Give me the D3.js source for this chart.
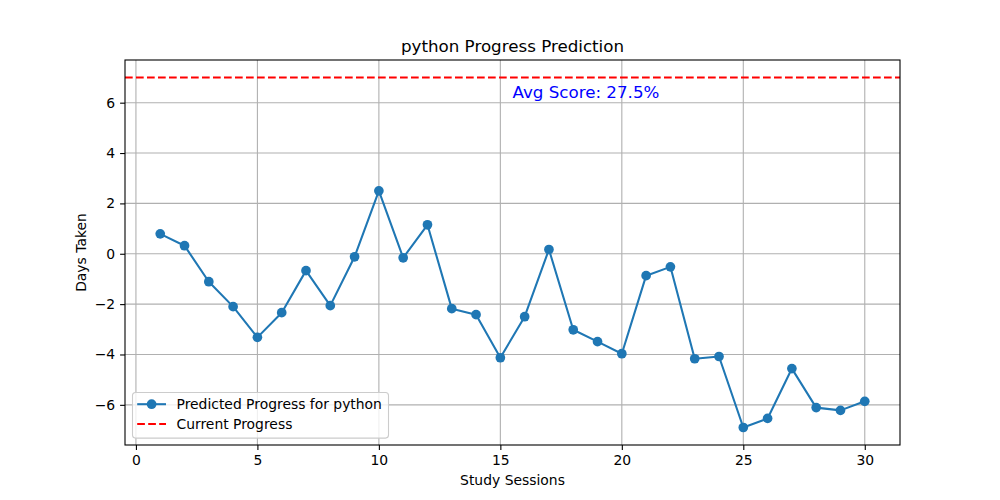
<!DOCTYPE html>
<html>
<head>
<meta charset="utf-8">
<script src="https://cdn.jsdelivr.net/npm/d3@7"></script>
<style>
  body { margin: 0; background: #fff; }
  svg text { font-family: "DejaVu Sans", sans-serif; fill: #000; }
</style>
</head>
<body>
<svg id="chart" width="1000" height="500"></svg>
<script>
// sessions and predicted days
var sessions = d3.range(1, 31);
var predicted = [0.79, 0.32, -1.11, -2.10, -3.32, -2.34, -0.67, -2.06, -0.12, 2.50,
                 -0.16, 1.15, -2.18, -2.42, -4.13, -2.50, 0.17, -3.02, -3.49, -3.97,
                 -0.87, -0.52, -4.17, -4.08, -6.90, -6.54, -4.56, -6.11, -6.22, -5.86];
var currentProgress = 7;
var xTicks = [0, 5, 10, 15, 20, 25, 30];
var yTicks = [-6, -4, -2, 0, 2, 4, 6];
var titleText = "python Progress Prediction";
var avgText = "Avg Score: 27.5%";
var legendLabels = ["Predicted Progress for python", "Current Progress"];

var svg = d3.select("#chart");
var margin = {left: 125, right: 100, top: 60, bottom: 55};
var width = 1000 - margin.left - margin.right;
var height = 500 - margin.top - margin.bottom;

// matplotlib style 5% padding
var xmin = d3.min(sessions), xmax = d3.max(sessions);
var xpad = (xmax - xmin) * 0.05;
var ymin = d3.min(predicted), ymax = Math.max(d3.max(predicted), currentProgress);
var ypad = (ymax - ymin) * 0.05;

var x = d3.scaleLinear().domain([xmin - xpad, xmax + xpad]).range([0, width]);
var y = d3.scaleLinear().domain([ymin - ypad, ymax + ypad]).range([height, 0]);

var g = svg.append("g").attr("transform", "translate(" + margin.left + "," + margin.top + ")");

// grid
g.append("g").selectAll("line").data(xTicks).enter().append("line")
  .attr("x1", function(d){return x(d)}).attr("x2", function(d){return x(d)})
  .attr("y1", 0).attr("y2", height)
  .attr("stroke", "#b0b0b0").attr("stroke-width", 1.1);
g.append("g").selectAll("line").data(yTicks).enter().append("line")
  .attr("y1", function(d){return y(d)}).attr("y2", function(d){return y(d)})
  .attr("x1", 0).attr("x2", width)
  .attr("stroke", "#b0b0b0").attr("stroke-width", 1.1);

// axes
var fmt = function(d){ return d < 0 ? "\u2212" + Math.abs(d) : String(d); };
var xAxis = g.append("g").attr("transform", "translate(0," + height + ")")
  .call(d3.axisBottom(x).tickValues(xTicks).tickFormat(fmt).tickSize(4.9).tickPadding(4.9));
var yAxis = g.append("g")
  .call(d3.axisLeft(y).tickValues(yTicks).tickFormat(fmt).tickSize(4.9).tickPadding(4.9));
[xAxis, yAxis].forEach(function(a){
  a.select(".domain").remove();
  a.selectAll(".tick line").attr("stroke", "#000").attr("stroke-width", 1.1);
  a.selectAll(".tick text").attr("font-size", "13.9px").attr("font-family", "DejaVu Sans").attr("fill", "#000");
});

// red current progress line
g.append("line")
  .attr("x1", 0).attr("x2", width)
  .attr("y1", y(currentProgress)).attr("y2", y(currentProgress))
  .attr("stroke", "red").attr("stroke-width", 2.08).attr("stroke-dasharray", "7.7,3.3");

// predicted line and markers
var line = d3.line().x(function(d, i){return x(sessions[i])}).y(function(d){return y(d)});
g.append("path").datum(predicted)
  .attr("d", line).attr("fill", "none")
  .attr("stroke", "#1f77b4").attr("stroke-width", 2.08).attr("stroke-linejoin", "round");
g.append("g").selectAll("circle").data(predicted).enter().append("circle")
  .attr("cx", function(d, i){return x(sessions[i])})
  .attr("cy", function(d){return y(d)})
  .attr("r", 4.85).attr("fill", "#1f77b4");

// spines
g.append("rect").attr("x", 0).attr("y", 0).attr("width", width).attr("height", height)
  .attr("fill", "none").attr("stroke", "#000").attr("stroke-width", 1.1);

// avg score text
g.append("text")
  .attr("x", width * 0.5).attr("y", 38)
  .attr("font-size", "16.7px").style("fill", "blue")
  .text(avgText);

// title and labels
svg.append("text").attr("x", margin.left + width / 2).attr("y", 52)
  .attr("text-anchor", "middle").attr("font-size", "16.7px").text(titleText);
svg.append("text").attr("x", margin.left + width / 2).attr("y", 485)
  .attr("text-anchor", "middle").attr("font-size", "13.9px").text("Study Sessions");
svg.append("text").attr("transform", "translate(86," + (margin.top + height / 2) + ") rotate(-90)")
  .attr("text-anchor", "middle").attr("font-size", "13.9px").text("Days Taken");

// legend
var legend = g.append("g").attr("transform", "translate(7.5," + (height - 52.5) + ")");
legend.append("rect").attr("width", 256).attr("height", 45.6).attr("rx", 3)
  .attr("fill", "#fff").attr("fill-opacity", 0.8)
  .attr("stroke", "#cccccc").attr("stroke-width", 1.1);
legend.append("line").attr("x1", 4.7).attr("x2", 33.5).attr("y1", 11.7).attr("y2", 11.7)
  .attr("stroke", "#1f77b4").attr("stroke-width", 2.08);
legend.append("circle").attr("cx", 19.1).attr("cy", 11.7).attr("r", 4.85).attr("fill", "#1f77b4");
legend.append("line").attr("x1", 4.7).attr("x2", 33.5).attr("y1", 31.5).attr("y2", 31.5)
  .attr("stroke", "red").attr("stroke-width", 2.08).attr("stroke-dasharray", "7.7,3.3");
legend.selectAll("text.lab").data(legendLabels).enter().append("text")
  .attr("class", "lab")
  .attr("x", 44).attr("y", function(d, i){return 16.5 + i * 19.8})
  .attr("font-size", "13.9px").text(function(d){return d});
</script>
</body>
</html>
